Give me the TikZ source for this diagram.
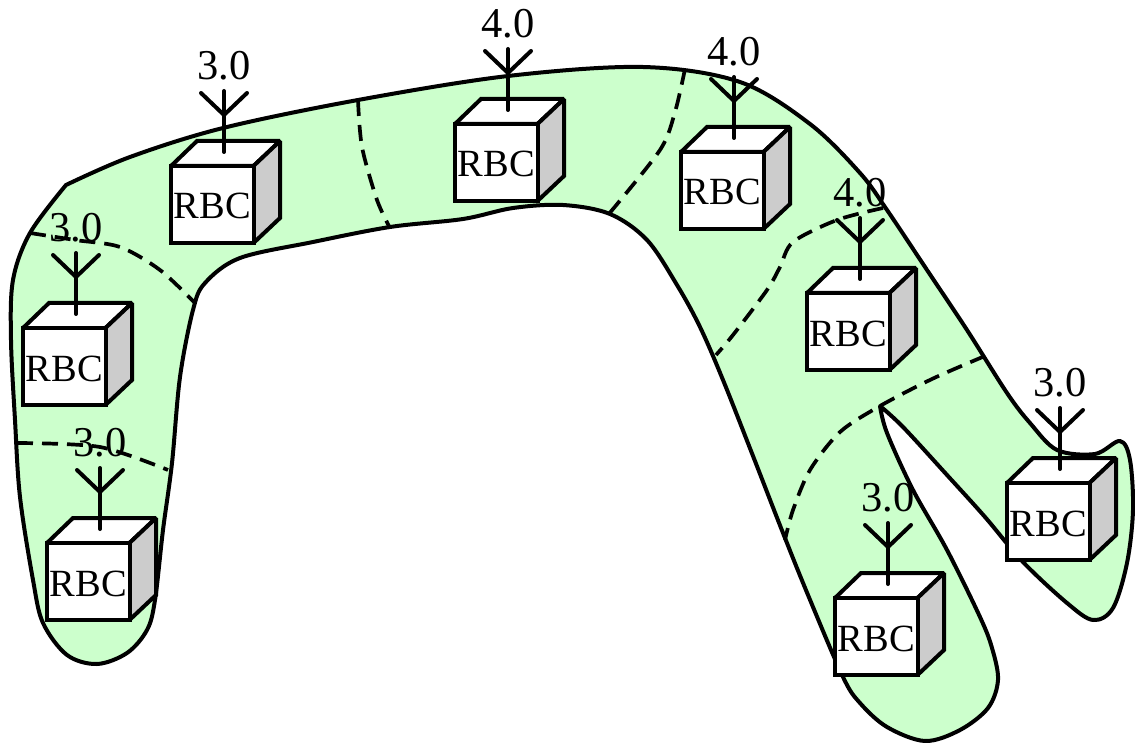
\documentclass[tikz,border=0pt]{standalone}
\usepackage{fontspec}
\setmainfont{Liberation Serif}
\tikzset{
  blob/.style={draw=black,fill=green!20,line width=4pt,line join=round},
  zone/.style={draw=black,line width=3.7pt,dash pattern=on 16pt off 9pt},
  face/.style={draw=black,line width=4pt,line join=miter,miter limit=1.6},
  front/.style={face,fill=white,minimum width=82.5pt,minimum height=77pt,inner sep=0pt,outer sep=0pt,anchor=north west,font=\fontsize{38.5pt}{42pt}\selectfont},
  aerial/.style={draw=black,line width=4pt,line cap=round},
  val/.style={inner sep=0pt,font=\fontsize{42.5pt}{45pt}\selectfont}
}
\newcommand{\rbc}[4]{%
  \path[face,fill=white] (#2,#3) -- ++(26,-25) -- ++(83,0) -- ++(-26.5,25) -- cycle;
  \path[face,fill=black!20] (#2+82.5,#3) -- ++(26.5,-25) -- ++(0,77) -- ++(-26.5,25) -- cycle;
  \node[front] (#1) at (#2,#3) {\smash{\raisebox{-14.5pt}{RBC}}};
  \coordinate (#1b) at (#2+53,#3-14);
  \coordinate (#1j) at (#2+53,#3-51);
  \coordinate (#1t) at (#2+53,#3-75);
  \coordinate (#1l) at (#2+30,#3-73);
  \coordinate (#1r) at (#2+76,#3-73);
  \draw[aerial] (#1b) -- (#1t);
  \draw[aerial] (#1l) -- (#1j) -- (#1r);
  \node[val] (#1v) at (#2+53,#3-100) {#4};
}
\begin{document}
\begin{tikzpicture}[x=1pt,y=-1pt]
\useasboundingbox (0,0) rectangle (1135,743);
\path[blob] plot[smooth,tension=0.55] coordinates {(66,185) (130,157) (223,128) (358,100) (508,76) (643,67) (740,82) (810,124) (860,173) (887,210) (927,270) (967,330) (1007,393) (1030,423) (1057,450) (1095,454) (1120,441) (1130,460) (1133,510) (1127,563) (1113,608) (1093,620) (1067,603) (1023,562) (985,517) (947,475) (903,427) (880,406)}
 -- plot[smooth,tension=0.55] coordinates {(880,406) (887,433) (913,490) (947,550) (980,617) (992,648) (998,680) (988,708) (960,730) (925,741) (887,727) (860,703) (843,677) (808,595) (783,533) (753,456) (723,380) (700,327) (677,285) (647,240) (610,214) (563,205) (513,208) (463,219) (390,227) (313,242) (240,258) (205,283) (193,310) (180,377) (172,463) (163,530) (155,600) (147,630) (127,653) (97,664) (67,655) (43,623) (33,580) (20,497) (15,420) (11,340) (13,280) (30,233) (66,185)} -- cycle;
\draw[zone] plot[smooth] coordinates {(30,233) (75,240) (120,247) (160,270) (195,303)};
\draw[zone] plot[smooth] coordinates {(17,443) (100,447) (168,470)};
\draw[zone] plot[smooth] coordinates {(358,100) (362,147) (377,200) (390,228)};
\draw[zone] plot[smooth] coordinates {(685,69) (675,112) (660,150) (608,215)};
\draw[zone] plot[smooth] coordinates {(883,208) (837,220) (793,242) (780,267) (767,290) (733,335) (716,355)};
\draw[zone] plot[smooth] coordinates {(985,356) (932,379) (880,406) (840,432) (810,470) (793,510) (785,540)};
\rbc{a}{23}{328}{3.0}
\rbc{b}{47}{543}{3.0}
\rbc{c}{171}{166}{3.0}
\rbc{d}{455}{124}{4.0}
\rbc{e}{681}{152}{4.0}
\rbc{f}{807}{293}{4.0}
\rbc{g}{1007}{483}{3.0}
\rbc{h}{835}{598}{3.0}
\end{tikzpicture}
\end{document}
